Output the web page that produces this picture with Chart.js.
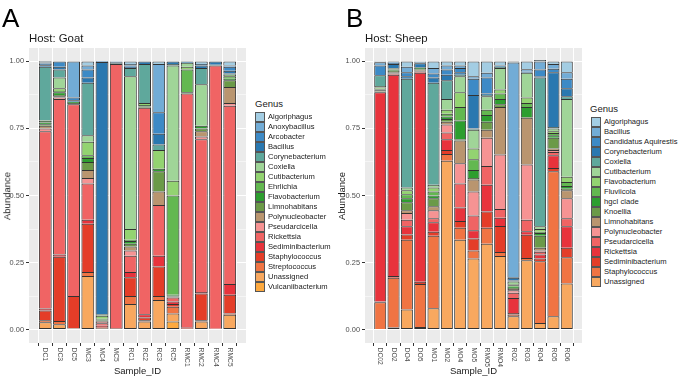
<!DOCTYPE html>
<html>
<head>
<meta charset="utf-8">
<script src="https://cdn.jsdelivr.net/npm/chart.js@4"></script>
<style>
  html, body { margin: 0; padding: 0; background: #ffffff; }
  #wrap { position: relative; width: 678px; height: 379px; overflow: hidden; font-family: 'Liberation Sans', Arial, sans-serif; }
  canvas { position: absolute; top: 0; }
  .t { position: absolute; white-space: nowrap; color: #1a1a1a; }
  .rot { transform: translate(-50%, -50%) rotate(-90deg); }
  .ctr { transform: translate(-50%, 0); }
  .sw { position: absolute; box-sizing: border-box; border: 1px solid #555; }
</style>
</head>
<body>
<div id="wrap">
  <canvas id="cA" width="250" height="379" style="left:0px;width:250px;height:379px"></canvas>
  <canvas id="cB" width="246" height="379" style="left:340px;width:246px;height:379px"></canvas>
</div>
<script>
const FONT = "'Liberation Sans', Arial, sans-serif";

// shared palette, assigned to genera by legend position
const palette = ['#a3cde3', '#72acd6', '#3d8ac6', '#2a78b0', '#5fa89c', '#a0d598',
                 '#93d371', '#63b850', '#2d9e2f', '#6b9a48', '#b9956f', '#f69393',
                 '#f06464', '#e8333c', '#e43d28', '#f07443', '#f8a85f', '#fda93f'];

// ---------- Panel A: Goat ----------
const goatGenera = ['Algoriphagus', 'Anoxybacillus', 'Arcobacter', 'Bacillus', 'Corynebacterium',
  'Coxiella', 'Cutibacterium', 'Ehrlichia', 'Flavobacterium', 'Limnohabitans', 'Polynucleobacter',
  'Pseudarcicella', 'Rickettsia', 'Sediminibacterium', 'Staphylococcus', 'Streptococcus',
  'Unassigned', 'Vulcaniibacterium'];
const goatSamples = ['DC1', 'DC3', 'DC5', 'MC3', 'MC4', 'MC5', 'RC1', 'RC2', 'RC3', 'RC5',
  'RMC1', 'RMC2', 'RMC4', 'RMC5'];
// abundance per sample, in goatGenera order
const goat_DC1  = [.005, .005, .005, .006, .2, 0, .002, .006, .006, .006, .01, .01, .661, .008, .036, .008, .027, 0];
const goat_DC3  = [0, 0, .02, .01, .03, .04, .01, .005, .01, .005, .005, .005, .58, .008, .24, .012, .02, 0];
const goat_DC5  = [0, .135, .01, .005, 0, 0, 0, 0, .005, .005, 0, 0, .715, 0, .12, .002, .003, 0];
const goat_MC3  = [.015, .015, .03, .02, .195, .025, .05, .01, .015, .03, .03, .02, .135, .015, .18, .015, .2, 0];
const goat_MC4  = [0, 0, .003, .94, .003, .003, .012, .003, .003, .003, .003, .004, .01, .005, .003, .003, .003, 0];
const goat_MC5  = [0, 0, .003, .004, .003, 0, 0, 0, 0, 0, 0, 0, .985, 0, .003, 0, .002, 0];
const goat_RC1  = [.01, .005, .005, .005, .03, .57, .04, .005, .01, .01, .015, .02, .06, .02, .07, .03, .095, 0];
const goat_RC2  = [0, 0, 0, .01, .145, 0, .008, 0, .005, .005, 0, 0, .77, .012, .01, .005, .03, 0];
const goat_RC3  = [.01, .18, .08, .04, .02, 0, .07, 0, .01, .075, .05, 0, .19, .04, .11, .015, .11, 0];
const goat_RC5  = [0, 0, 0, .01, .005, .43, .055, .37, .004, .003, .003, 0, .015, .01, .01, .025, .03, .03];
const goat_RMC1 = [0, 0, 0, .005, 0, .015, .01, .085, .005, 0, 0, 0, .87, .003, .004, 0, .003, 0];
const goat_RMC2 = [.01, 0, .005, .01, .06, .155, 0, 0, .01, .01, .02, .01, .57, .005, .1, .005, .03, 0];
const goat_RMC4 = [0, 0, 0, .012, .003, 0, 0, 0, 0, 0, 0, 0, .982, 0, 0, 0, .003, 0];
const goat_RMC5 = [.015, .005, .015, .01, .005, 0, .005, .01, .005, .025, .06, .01, .665, .04, .07, .005, .055, 0];
const goatRows = [goat_DC1, goat_DC3, goat_DC5, goat_MC3, goat_MC4, goat_MC5, goat_RC1, goat_RC2,
  goat_RC3, goat_RC5, goat_RMC1, goat_RMC2, goat_RMC4, goat_RMC5];

// ---------- Panel B: Sheep ----------
const sheepGenera = ['Algoriphagus', 'Bacillus', 'Candidatus Aquirestis', 'Corynebacterium', 'Coxiella',
  'Cutibacterium', 'Flavobacterium', 'Fluviicola', 'hgcI clade', 'Knoellia', 'Limnohabitans',
  'Polynucleobacter', 'Pseudarcicella', 'Rickettsia', 'Sediminibacterium', 'Staphylococcus', 'Unassigned'];
const sheepSamples = ['DC02', 'DO2', 'DO4', 'DO5', 'MO1', 'MO2', 'MO4', 'MO5', 'RMO5', 'RMO4',
  'RO2', 'RO3', 'RO4', 'RO5', 'RO6'];
const sheep_DC02 = [.003, .012, .037, 0, .04, .005, .005, .003, .003, .004, .003, 0, 0, .78, .003, .1, .002];
const sheep_DO2  = [0, .005, .005, .015, 0, .002, .003, 0, .005, .005, .005, 0, .005, .75, .007, .185, .008];
const sheep_DO4  = [.02, .02, .015, .01, .405, .01, .015, .015, .015, .03, .01, .025, .025, .03, .02, .26, .075];
const sheep_DO5  = [.002, .003, .002, .015, .003, 0, 0, 0, .003, .003, .004, .003, .004, .78, .008, .16, .01];
const sheep_MO1  = [.025, .02, .015, .02, .38, .01, .015, .015, .01, .03, .015, .03, .015, .035, .015, .27, .08];
const sheep_MO2  = [.015, .015, .02, .02, .07, .04, .015, .01, .01, .01, .01, .03, .025, .04, .015, .025, .63];
const sheep_MO4  = [.015, .01, .015, .01, .005, .06, .055, .05, .07, .005, .085, .075, .09, .05, .025, .045, .335];
const sheep_MO5  = [.055, .01, .06, .125, .005, .07, .04, .04, .03, .005, .045, .09, .055, .03, .045, .03, .265];
const sheep_RMO5 = [.042, .018, .06, .005, .005, .05, 0, .02, .025, .03, .03, .105, .07, .1, .06, .06, .32];
const sheep_RMO4 = [.015, 0, 0, .005, .005, .08, .015, .02, .02, .01, .177, .203, .033, .031, .097, .015, .274];
const sheep_RO2  = [.004, .8, .003, .01, .004, .01, .004, .005, .005, .004, .004, .01, .019, .056, .006, .006, .05];
const sheep_RO3  = [.029, .01, .003, 0, 0, .093, .02, .015, .037, .003, .174, .206, .043, .013, .087, .008, .259];
const sheep_RO4  = [.005, .03, .025, .005, .555, .01, .01, .005, .01, .045, .01, .005, .01, .015, .01, .23, .025];
const sheep_RO5  = [.01, .017, .013, .205, .005, .01, .007, .008, .01, .04, .005, .008, .012, .047, .013, .54, .05];
const sheep_RO6  = [.04, .025, .035, .03, .01, .29, .02, .015, .01, .005, .03, .075, .03, .08, .035, .098, .172];
const sheepRows = [sheep_DC02, sheep_DO2, sheep_DO4, sheep_DO5, sheep_MO1, sheep_MO2, sheep_MO4, sheep_MO5,
  sheep_RMO5, sheep_RMO4, sheep_RO2, sheep_RO3, sheep_RO4, sheep_RO5, sheep_RO6];

const yTickValues = [0, 0.125, 0.25, 0.375, 0.5, 0.625, 0.75, 0.875, 1];
const isMajor = v => Math.abs(v * 4 - Math.round(v * 4)) < 1e-9;

const panelPlugin = {
  id: 'panel',
  beforeDraw(chart) {
    const { ctx, chartArea: a } = chart;
    ctx.save();
    ctx.fillStyle = '#ebebeb';
    ctx.fillRect(a.left, a.top, a.right - a.left, a.bottom - a.top);
    ctx.restore();
  },
  afterDraw(chart, args, opts) {
    const { ctx, chartArea, scales } = chart;
    ctx.save();
    ctx.font = '6.8px ' + FONT;
    ctx.fillStyle = '#4d4d4d';
    ctx.textAlign = 'left';
    ctx.textBaseline = 'middle';
    opts.labels.forEach((lab, i) => {
      const x = scales.x.getPixelForValue(i + 1);
      ctx.save();
      ctx.translate(x, chartArea.bottom + 4.5);
      ctx.rotate(Math.PI / 2);
      ctx.fillText(lab, 0, 0);
      ctx.restore();
    });
    ctx.restore();
  }
};

function makeChart(id, samples, genera, rows, yW) {
  const n = samples.length;
  const datasets = genera.map((g, gi) => ({
    label: g,
    data: rows.map((r, si) => ({ x: si + 1, y: r[gi] > 0 ? r[gi] : null })),
    backgroundColor: palette[gi],
    borderColor: '#333333',
    borderWidth: 1,
    borderSkipped: (ctx) => {
      const r = rows[ctx.dataIndex];
      if (!r) return 'start';
      for (let k = gi + 1; k < genera.length; k++) if (r[k] > 0) return 'start';
      return false;
    },
    categoryPercentage: 1,
    barPercentage: 0.9
  })).reverse();

  return new Chart(document.getElementById(id), {
    type: 'bar',
    data: { datasets },
    plugins: [panelPlugin],
    options: {
      responsive: false,
      animation: false,
      layout: { padding: { top: 48, right: 4, left: 0, bottom: 0 } },
      plugins: {
        legend: { display: false },
        tooltip: { enabled: false },
        panel: { labels: samples }
      },
      scales: {
        x: {
          type: 'linear', stacked: true, min: 0.4, max: n + 0.6,
          afterBuildTicks: s => { s.ticks = samples.map((_, i) => ({ value: i + 1 })); },
          afterFit: s => { s.height = 36; },
          ticks: { display: false },
          grid: { color: '#ffffff', lineWidth: 1, drawTicks: true, tickLength: 3, tickColor: '#333333' },
          border: { display: false }
        },
        y: {
          type: 'linear', stacked: true, min: -0.05, max: 1.05,
          afterBuildTicks: s => { s.ticks = yTickValues.map(v => ({ value: v })); },
          afterFit: s => { s.width = yW; },
          ticks: {
            autoSkip: false, padding: 2, color: '#4d4d4d',
            font: { size: 7.4, family: FONT },
            callback: v => isMajor(v) ? v.toFixed(2) : ''
          },
          grid: {
            color: '#ffffff',
            lineWidth: c => (c.tick && isMajor(c.tick.value)) ? 1 : 0.5,
            tickLength: 3,
            tickColor: c => (c.tick && isMajor(c.tick.value)) ? '#333333' : 'rgba(0,0,0,0)'
          },
          border: { display: false }
        }
      }
    }
  });
}

makeChart('cA', goatSamples, goatGenera, goatRows, 29);
makeChart('cB', sheepSamples, sheepGenera, sheepRows, 25);

// ---------- text & legends ----------
const wrap = document.getElementById('wrap');
function addText(txt, left, top, size, cls, color) {
  const d = document.createElement('div');
  d.className = 't' + (cls ? ' ' + cls : '');
  d.textContent = txt;
  d.style.left = left + 'px';
  d.style.top = top + 'px';
  d.style.fontSize = size + 'px';
  d.style.lineHeight = size + 'px';
  if (color) d.style.color = color;
  wrap.appendChild(d);
  return d;
}
function legend(genera, titleLeft, titleCenter, swLeft, firstTop, textLeft) {
  addText('Genus', titleLeft, titleCenter - 0.49 * 9.5, 9.5);
  genera.forEach((g, i) => {
    const top = firstTop + i * 10;
    const s = document.createElement('div');
    s.className = 'sw';
    s.style.left = swLeft + 'px';
    s.style.top = top + 'px';
    s.style.width = '10px';
    s.style.height = '10px';
    s.style.background = palette[i];
    wrap.appendChild(s);
    addText(g, textLeft, top + 5 - 0.49 * 7.6, 7.6, '', '#1a1a1a');
  });
}

addText('A', 2, 4.8, 26, '', '#000');
addText('B', 346, 4.8, 26, '', '#000');
addText('Host: Goat', 29, 33.4, 11.4);
addText('Host: Sheep', 365, 33.4, 11.4);
addText('Abundance', 7, 196, 9.5, 'rot');
addText('Abundance', 342, 196, 9.5, 'rot');
addText('Sample_ID', 137.5, 365.5, 9.5, 'ctr');
addText('Sample_ID', 473.5, 365.5, 9.5, 'ctr');
legend(goatGenera, 255, 104, 255, 112, 268);
legend(sheepGenera, 590, 109, 591, 117, 604);
</script>
</body>
</html>
